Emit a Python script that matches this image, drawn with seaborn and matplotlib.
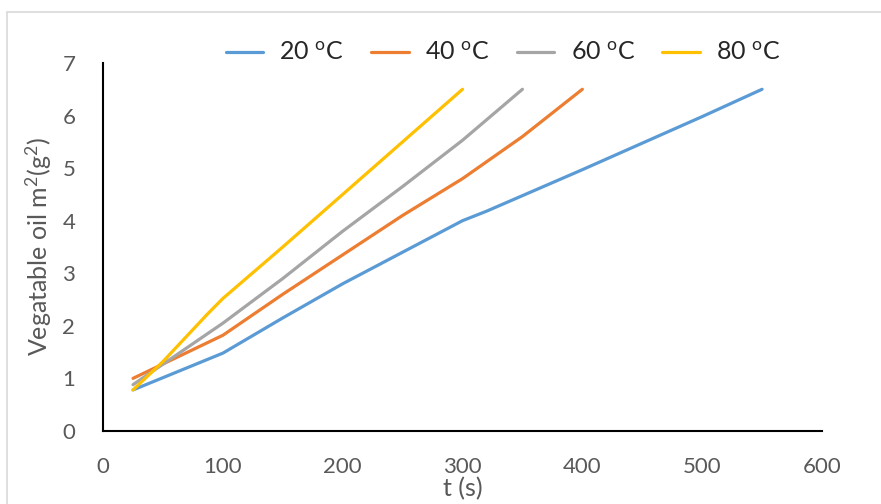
import matplotlib
matplotlib.use("Agg")
import matplotlib.pyplot as plt
import pandas as pd
import seaborn as sns
from matplotlib.patches import Rectangle

# values
T20_X = [25, 100, 150, 200, 250, 300, 320, 400, 500, 550]
T20_Y = [0.78, 1.48, 2.15, 2.80, 3.40, 4.00, 4.18, 4.97, 5.98, 6.50]
T40_X = [25, 100, 150, 200, 250, 300, 350, 400]
T40_Y = [1.00, 1.82, 2.60, 3.35, 4.10, 4.80, 5.60, 6.50]
T60_X = [25, 100, 150, 200, 250, 300, 350]
T60_Y = [0.88, 2.05, 2.90, 3.80, 4.65, 5.53, 6.50]
T80_X = [25, 50, 87, 100, 150, 200, 250, 300]
T80_Y = [0.78, 1.32, 2.22, 2.52, 3.50, 4.50, 5.50, 6.50]

SERIES = [
    (r"20 $^{\rm o}$C", T20_X, T20_Y),
    (r"40 $^{\rm o}$C", T40_X, T40_Y),
    (r"60 $^{\rm o}$C", T60_X, T60_Y),
    (r"80 $^{\rm o}$C", T80_X, T80_Y),
]
COLORS = ["#5B9BD5", "#ED7D31", "#A5A5A5", "#FFC000"]
X_TICKS = [0, 100, 200, 300, 400, 500, 600]
Y_TICKS = [0, 1, 2, 3, 4, 5, 6, 7]

frames = [pd.DataFrame({"t": xs, "m2": ys, "temp": name}) for name, xs, ys in SERIES]
df = pd.concat(frames, ignore_index=True)
order = [name for name, _, _ in SERIES]

sns.set_theme(style="white")
plt.rcParams["font.family"] = ["Lato", "DejaVu Sans"]
plt.rcParams["mathtext.fontset"] = "custom"
plt.rcParams["mathtext.rm"] = "Lato"
plt.rcParams["mathtext.it"] = "Lato:italic"

fig = plt.figure(figsize=(8.81, 5.04), dpi=100)
ax = fig.add_axes([0.117, 0.145, 0.816, 0.730])

sns.lineplot(
    data=df, x="t", y="m2", hue="temp", hue_order=order,
    palette=COLORS, estimator=None, sort=False, linewidth=2.3, ax=ax,
)

ax.set_xlim(0, 600)
ax.set_ylim(0, 7)
ax.set_xticks(X_TICKS)
ax.set_yticks(Y_TICKS)
for side in ["top", "right"]:
    ax.spines[side].set_visible(False)
for side in ["left", "bottom"]:
    ax.spines[side].set_color("black")
    ax.spines[side].set_linewidth(1.5)
ax.tick_params(axis="both", direction="in", length=6, width=1.5, color="black",
               labelsize=16, labelcolor="#595959")
ax.tick_params(axis="x", pad=19)
ax.tick_params(axis="y", pad=20)
ax.set_xlabel("t (s)", fontsize=18, color="#595959", labelpad=0)
ax.set_ylabel("Vegatable oil m$^{2}$(g$^{2}$)", fontsize=18, color="#595959", labelpad=6)

handles, labels = ax.get_legend_handles_labels()
ax.legend_.remove()
fig.legend(handles, labels, loc="center", bbox_to_anchor=(0.571, 0.895), ncol=4,
           frameon=False, fontsize=18, handlelength=1.5, handletextpad=0.65,
           columnspacing=1.1)

fig.patches.append(Rectangle((7 / 881, -0.2), 1.2, 1.2 - 12 / 504, transform=fig.transFigure,
                             fill=False, edgecolor="#d9d9d9", linewidth=1.2))

fig.savefig("out.png", dpi=100)
